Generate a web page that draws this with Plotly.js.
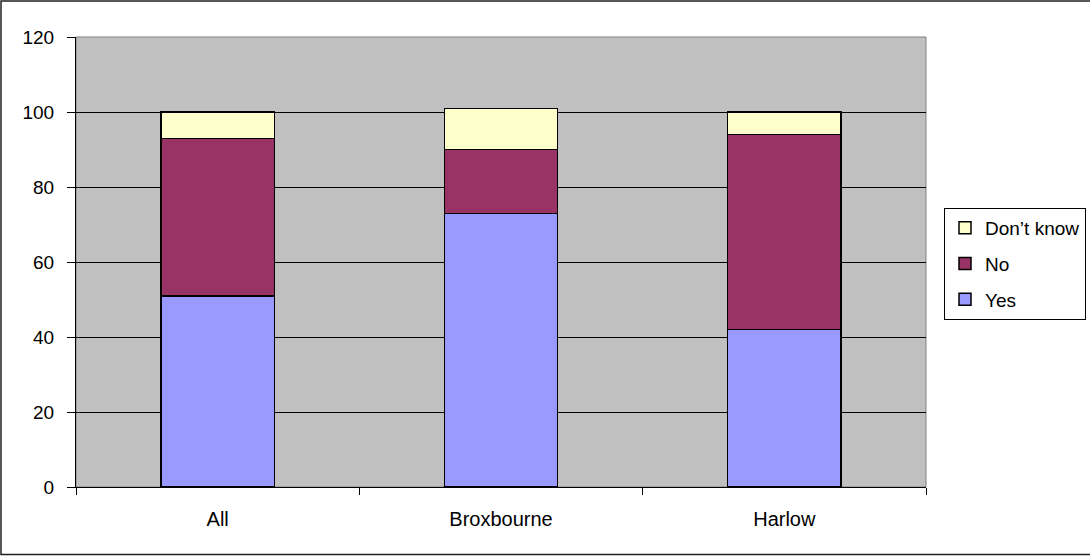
<!DOCTYPE html>
<html>
<head>
<meta charset="utf-8">
<script src="https://cdn.plot.ly/plotly-3.0.1.min.js"></script>
<style>
  html, body { margin: 0; padding: 0; background: #ffffff; }
  #chart { width: 1090px; height: 556px; }
</style>
</head>
<body>
<div id="chart"></div>
<script>
// Survey responses by area (percent)
const categories = ["All", "Broxbourne", "Harlow"];
const yesValues = [51, 73, 42];
const noValues = [42, 17, 52];
const dontKnowValues = [7, 11, 6];
const yTicks = [0, 20, 40, 60, 80, 100, 120];

const outline = { color: "#000000", width: 1.5 };

const traces = [
  { name: "Yes", y: yesValues, color: "#9999FF", group: "g1", rank: 3 },
  { name: "No", y: noValues, color: "#993366", group: "g2", rank: 2 },
  { name: "Don\u2019t know", y: dontKnowValues, color: "#FFFFCC", group: "g3", rank: 1 }
].map(s => ({
  type: "bar",
  x: categories,
  y: s.y,
  name: s.name,
  legendgroup: s.group,
  legendrank: s.rank,
  marker: { color: s.color, line: outline },
  hoverinfo: "x+y+name"
}));

// Plot region in pixels, used to place the legend and the outer frame in paper units
const W = 1090, H = 556;
const L = 76, R = 164, T = 37, B = 69;
const pw = W - L - R, ph = H - T - B;
const px = v => (v - L) / pw;
const py = v => (H - B - v) / ph;

const layout = {
  width: W,
  height: H,
  barmode: "stack",
  bargap: 0.6,
  paper_bgcolor: "#FFFFFF",
  plot_bgcolor: "#C0C0C0",
  font: { family: "Liberation Sans, Arial, sans-serif", size: 20, color: "#000000" },
  margin: { l: L, r: R, t: T, b: B, pad: 0, autoexpand: false },
  showlegend: true,
  legend: {
    x: px(944), xanchor: "left",
    y: py(208), yanchor: "top",
    traceorder: "grouped",
    tracegroupgap: 8,
    itemwidth: 30,
    bgcolor: "#FFFFFF",
    bordercolor: "#000000",
    borderwidth: 1,
    font: { size: 19, color: "#000000" }
  },
  xaxis: {
    type: "category",
    tickson: "boundaries",
    ticks: "outside",
    ticklen: 7,
    tickcolor: "#000000",
    showline: true,
    linecolor: "#000000",
    linewidth: 1,
    showgrid: false,
    ticklabelstandoff: 14,
    tickfont: { size: 20 },
    fixedrange: true
  },
  yaxis: {
    range: [0, 120],
    tickvals: yTicks,
    ticktext: yTicks.map(String),
    ticks: "outside",
    ticklen: 8,
    tickcolor: "#000000",
    showline: true,
    linecolor: "#000000",
    linewidth: 1,
    showgrid: true,
    gridcolor: "#000000",
    gridwidth: 1,
    zeroline: false,
    ticklabelstandoff: 9,
    tickfont: { size: 19 },
    fixedrange: true
  },
  shapes: [
    // frame around the whole chart
    {
      type: "rect", xref: "paper", yref: "paper", layer: "above",
      x0: px(1), x1: px(1100), y0: py(554.5), y1: py(1),
      line: { color: "#202020", width: 1.5 }, fillcolor: "rgba(0,0,0,0)"
    },
    // grey border of the plot area
    {
      type: "rect", xref: "paper", yref: "paper", layer: "below",
      x0: 0, x1: 1, y0: 0, y1: 1,
      line: { color: "#808080", width: 1 }, fillcolor: "rgba(0,0,0,0)"
    }
  ]
};

Plotly.newPlot("chart", traces, layout, { displayModeBar: false, staticPlot: true });
</script>
</body>
</html>
